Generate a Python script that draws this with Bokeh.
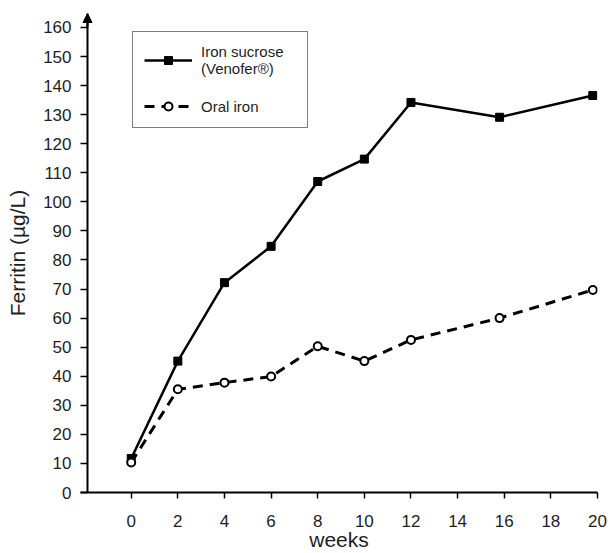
from bokeh.plotting import figure
from bokeh.models import (FixedTicker, Legend, LegendItem, Arrow, NormalHead,
                          Range1d, Span)
from bokeh.embed import file_html
from bokeh.resources import INLINE

# ---- data ----
weeks_sucrose = [0, 2, 4, 6, 8, 10, 12, 15.8, 19.8]
ferritin_sucrose = [11.7, 45.2, 72.2, 84.7, 107.0, 114.7, 134.2, 129.1, 136.6]
weeks_oral = [0, 2, 4, 6, 8, 10, 12, 15.8, 19.8]
ferritin_oral = [10.3, 35.5, 37.8, 39.9, 50.3, 45.2, 52.5, 60.0, 69.7]
series_names = ["Iron sucrose\n(Venofer®)", "Oral iron"]
x_ticks = list(range(0, 21, 2))
y_ticks = list(range(0, 161, 10))
x_label = "weeks"
y_label = "Ferritin (µg/L)"

Y_AXIS_AT = -1.875          # where the y axis line crosses the x axis
X_START, X_END = -2.175, 20
Y_START, Y_END = 0, 164.8

FONT = "Liberation Sans"
TXT = "#1e1e1e"

p = figure(width=611, height=553, output_backend="svg", toolbar_location=None,
           x_range=Range1d(X_START, X_END), y_range=Range1d(Y_START, Y_END),
           min_border_left=80, min_border_right=14, min_border_top=13,
           min_border_bottom=61, outline_line_color=None,
           background_fill_color="white", border_fill_color="white")
p.xgrid.visible = False
p.ygrid.visible = False

for ax in (p.xaxis[0], p.yaxis[0]):
    ax.axis_line_color = "black"
    ax.axis_line_width = 2
    ax.major_tick_line_color = "black"
    ax.major_tick_line_width = 1.5
    ax.minor_tick_line_color = None
    ax.major_tick_in = 0
    ax.major_label_text_font = FONT
    ax.major_label_text_font_size = "17px"
    ax.major_label_text_color = TXT
    ax.axis_label_text_font = FONT
    ax.axis_label_text_font_size = "21px"
    ax.axis_label_text_font_style = "normal"
    ax.axis_label_text_color = TXT

p.xaxis[0].ticker = FixedTicker(ticks=x_ticks)
p.yaxis[0].ticker = FixedTicker(ticks=y_ticks)
p.xaxis[0].major_tick_out = 6
p.xaxis[0].major_label_standoff = 16
p.xaxis[0].axis_label = x_label
p.xaxis[0].axis_label_standoff = -2

# y axis: ticks run from the frame edge to the axis line, which is drawn as a span
p.yaxis[0].axis_line_color = None
p.yaxis[0].major_tick_out = 0
p.yaxis[0].major_tick_in = 7
p.yaxis[0].major_label_standoff = 9
p.yaxis[0].axis_label = y_label
p.yaxis[0].axis_label_standoff = 11
p.add_layout(Span(location=Y_AXIS_AT, dimension="height", line_color="black",
                  line_width=2))

r1 = p.line(weeks_sucrose, ferritin_sucrose, line_width=2.5, line_color="black")
s1 = p.scatter(weeks_sucrose, ferritin_sucrose, marker="square", size=8,
               fill_color="black", line_color="black")
r2 = p.line(weeks_oral, ferritin_oral, line_width=3, line_dash="10 7",
            line_color="black")
s2 = p.scatter(weeks_oral, ferritin_oral, marker="circle", size=8,
               fill_color="white", line_color="black", line_width=2)

# arrow head on top of the y axis
p.add_layout(Arrow(end=NormalHead(size=9, fill_color="black", line_color="black"),
                   x_start=Y_AXIS_AT, y_start=160, x_end=Y_AXIS_AT, y_end=Y_END,
                   line_color="black", line_width=2))

legend = Legend(items=[LegendItem(label=series_names[0], renderers=[r1, s1]),
                       LegendItem(label=series_names[1], renderers=[r2, s2])],
                location=(52, 364), orientation="vertical",
                border_line_color="black", border_line_width=1.5,
                background_fill_color="white", background_fill_alpha=1,
                label_text_font=FONT, label_text_font_size="15px",
                label_text_color=TXT, glyph_width=48, glyph_height=20,
                label_standoff=9, label_width=95, padding=11, spacing=19,
                margin=0)
p.add_layout(legend)

open("out.html", "w").write(file_html(p, INLINE))
